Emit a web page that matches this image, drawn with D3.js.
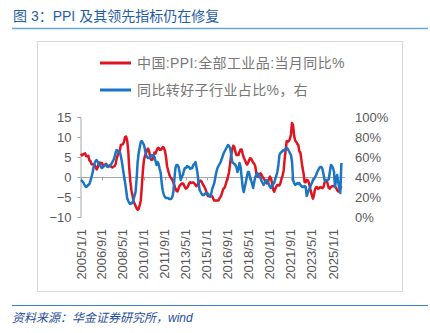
<!DOCTYPE html>
<html lang="zh">
<head>
<meta charset="UTF-8">
<title>PPI 及其领先指标仍在修复</title>
<script src="https://cdn.jsdelivr.net/npm/d3@7/dist/d3.min.js"></script>
<style>
  body { margin: 0; background: #fff; }
  svg { font-family: "Liberation Sans", Arial, "Noto Sans CJK SC", sans-serif; }
</style>
</head>
<body>
<div id="chart"></div>
<script>
// monthly series, 2005/1 .. 2025/9
var startMonth = "2005-01-01";

// 中国:PPI:全部工业品:当月同比%
var ppi = [
  5.8, 5.4, 5.6, 5.8, 5.9, 5.2, 5.2, 5.3, 4.1, 4.0, 3.2, 3.2,
  3.1, 3.0, 2.5, 1.9, 2.4, 3.5, 3.6, 3.4, 3.5, 2.9, 2.8, 3.1,
  3.3, 2.6, 2.7, 2.9, 2.8, 2.5, 2.4, 2.6, 2.7, 3.2, 4.6, 5.4,
  6.1, 6.6, 8.0, 8.1, 8.2, 8.8, 10.0, 10.1, 9.1, 6.6, 2.0, -1.1,
  -3.3, -4.5, -6.0, -6.6, -7.2, -7.8, -8.2, -7.9, -7.0, -5.8, -2.1, 1.7,
  4.3, 5.4, 5.9, 6.8, 7.1, 6.4, 4.8, 4.3, 4.3, 5.0, 6.1, 5.9,
  6.6, 7.2, 7.3, 6.8, 6.8, 7.1, 7.5, 7.3, 6.5, 5.0, 2.7, 1.7,
  0.7, 0.0, -0.3, -0.7, -1.4, -2.1, -2.9, -3.5, -3.6, -2.8, -2.2, -1.9,
  -1.6, -1.6, -1.9, -2.6, -2.9, -2.7, -2.3, -1.6, -1.3, -1.5, -1.4, -1.4,
  -1.6, -2.0, -2.3, -2.0, -1.4, -1.1, -0.9, -1.2, -1.8, -2.2, -2.7, -3.3,
  -4.3, -4.8, -4.6, -4.6, -4.6, -4.8, -5.4, -5.9, -5.9, -5.9, -5.9, -5.9,
  -5.3, -4.9, -4.3, -3.4, -2.8, -2.6, -1.7, -0.8, 0.1, 1.2, 3.3, 5.5,
  6.9, 7.8, 7.6, 6.4, 5.5, 5.5, 5.5, 6.3, 6.9, 6.9, 5.8, 4.9,
  4.3, 3.7, 3.1, 3.4, 4.1, 4.7, 4.6, 4.1, 3.6, 3.3, 2.7, 0.9,
  0.1, 0.1, 0.4, 0.9, 0.6, 0.0, -0.3, -0.8, -1.2, -1.6, -1.4, -0.5,
  0.1, -0.4, -1.5, -3.1, -3.7, -3.0, -2.4, -2.0, -2.1, -2.1, -1.5, -0.4,
  0.3, 1.7, 4.4, 6.8, 9.0, 8.8, 9.0, 9.5, 10.7, 13.5, 12.9, 10.3,
  9.1, 8.8, 8.3, 8.0, 6.4, 6.1, 4.2, 2.3, 0.9, -1.3, -1.3, -0.7,
  -0.8, -1.4, -2.5, -3.6, -4.6, -5.4, -4.4, -3.0, -2.5, -2.6, -3.0, -2.7,
  -2.5, -2.7, -2.8, -2.5, -1.4, -0.8, -0.8, -1.8, -2.8, -2.9, -2.5, -2.3,
  -2.3, -2.2, -2.5, -2.7, -3.3, -3.6, -3.6, -2.9, -2.3
];

// 同比转好子行业占比%（右轴）
var share = [
  37, 36, 35, 33, 31, 30, 31, 32, 33, 36, 40, 44,
  50, 54, 56, 57, 55, 53, 52, 50, 49, 50, 51, 52,
  52, 51, 50, 51, 52, 53, 55, 57, 60, 64, 67, 66,
  65, 65, 61, 55, 48, 41, 35, 27, 19, 16, 14, 13,
  14, 14, 17, 21, 25, 38, 55, 64, 70, 75, 76, 74,
  72, 67, 62, 60, 59, 59, 60, 62, 61, 62, 60, 56,
  52, 55, 53, 48, 44, 33, 26, 22, 20, 19, 19, 19,
  18, 18, 18, 20, 25, 38, 49, 52, 52, 50, 44, 37,
  40, 42, 46, 49, 49, 51, 50, 50, 48, 49, 49, 52,
  53, 55, 50, 44, 35, 27, 25, 23, 22, 22, 23, 24,
  24, 23, 22, 20, 23, 28, 31, 34, 40, 45, 49, 51,
  53, 55, 58, 61, 64, 66, 68, 70, 72, 71, 69, 63,
  55, 54, 53, 52, 50, 45, 48, 54, 50, 40, 30, 25,
  30, 35, 40, 45, 45, 40, 37, 33, 29, 35, 40, 42,
  44, 42, 40, 39, 36, 34, 32, 34, 36, 37, 35, 33,
  30, 29, 31, 33, 34, 38, 41, 45, 52, 62, 64, 65,
  66, 67, 67, 68, 69, 68, 66, 64, 62, 55, 37, 34,
  32, 33, 34, 33, 34, 32, 31, 30, 30, 31, 30, 21,
  24, 27, 29, 32, 34, 37, 38, 40, 42, 45, 47, 49,
  50, 50, 48, 43, 37, 36, 37, 37, 38, 45, 52, 51,
  49, 45, 30, 38, 42, 35, 29, 24, 54
];

var xTickLabels = ["2005/1/1", "2006/9/1", "2008/5/1", "2010/1/1", "2011/9/1", "2013/5/1",
  "2015/1/1", "2016/9/1", "2018/5/1", "2020/1/1", "2021/9/1", "2023/5/1", "2025/1/1"];
var leftTicks = [-10, -5, 0, 5, 10, 15];
var rightTicks = [0, 20, 40, 60, 80, 100];

var seriesNames = ["中国:PPI:全部工业品:当月同比%", "同比转好子行业占比%，右"];
var colors = ["#e0141e", "#1b75c4"];

var W = 430, H = 333;
var svg = d3.select("#chart").append("svg").attr("width", W).attr("height", H);

// title + rules
svg.append("text").attr("x", 13).attr("y", 21)
   .attr("fill", "#1f5ea8").attr("font-size", 14)
   .text("图 3：PPI 及其领先指标仍在修复");
svg.append("line").attr("x1", 12).attr("x2", 428).attr("y1", 28.5).attr("y2", 28.5)
   .attr("stroke", "#6aa5da").attr("stroke-width", 1.5);
svg.append("line").attr("x1", 12).attr("x2", 428).attr("y1", 305.5).attr("y2", 305.5)
   .attr("stroke", "#3b82c8").attr("stroke-width", 1.2);
svg.append("text").attr("x", 12).attr("y", 322)
   .attr("fill", "#1f4e9c").attr("font-size", 12).attr("font-style", "italic")
   .text("资料来源：华金证券研究所，wind");

// chart frame
svg.append("rect").attr("x", 37.5).attr("y", 41.5).attr("width", 365).attr("height", 250)
   .attr("fill", "none").attr("stroke", "#d9d9d9");

var parse = d3.utcParse("%Y-%m-%d");
var parseTick = d3.utcParse("%Y/%m/%d");
var t0 = parse(startMonth);
var dates = ppi.map(function(d, i) { return d3.utcMonth.offset(t0, i); });

var x = d3.scaleUtc().domain([parseTick("2005/1/1"), parseTick("2025/1/1")]).range([81, 333]);
var yL = d3.scaleLinear().domain([-10, 15]).range([217, 117]);
var yR = d3.scaleLinear().domain([0, 100]).range([217, 117]);

// left axis
var gL = svg.append("g").attr("transform", "translate(80.5,0)")
  .call(d3.axisLeft(yL).tickValues(leftTicks).tickSize(3).tickPadding(6));
// right axis (labels only)
var gR = svg.append("g").attr("transform", "translate(350,0)")
  .call(d3.axisRight(yR).tickValues(rightTicks).tickSize(0).tickPadding(5)
    .tickFormat(function(d) { return d + "%"; }));
gR.select(".domain").remove();
// x axis at zero
var gX = svg.append("g").attr("transform", "translate(0," + (yL(0) + 0.5) + ")")
  .call(d3.axisBottom(x).tickValues(xTickLabels.map(parseTick)).tickSize(3).tickFormat(""));
gX.select(".domain").attr("d", "M80.5,0H345");
// rotated tick labels at the bottom
svg.append("g").selectAll("text").data(xTickLabels).join("text")
   .attr("transform", function(d) { return "translate(" + (x(parseTick(d)) + 4.5) + ",229) rotate(-90)"; })
   .attr("text-anchor", "end").attr("font-size", 13).attr("fill", "#595959")
   .text(function(d) { return d; });

[gL, gR, gX].forEach(function(g) {
  g.selectAll(".domain, .tick line").attr("stroke", "#a6a6a6");
  g.selectAll("text").attr("font-size", 13).attr("fill", "#595959")
   .attr("font-family", "\"Liberation Sans\", Arial, sans-serif");
});

// lines
var lineL = d3.line().x(function(d, i) { return x(dates[i]); }).y(function(d) { return yL(d); });
var lineR = d3.line().x(function(d, i) { return x(dates[i]); }).y(function(d) { return yR(d); });
svg.append("path").datum(ppi).attr("d", lineL).attr("fill", "none")
   .attr("stroke", colors[0]).attr("stroke-width", 2.5).attr("stroke-linejoin", "round");
svg.append("path").datum(share).attr("d", lineR).attr("fill", "none")
   .attr("stroke", colors[1]).attr("stroke-width", 2.5).attr("stroke-linejoin", "round");

// legend
var lg = svg.append("g").selectAll("g").data(seriesNames).join("g")
  .attr("transform", function(d, i) { return "translate(100," + (63 + i * 27) + ")"; });
lg.append("line").attr("x1", 0).attr("x2", 31).attr("stroke", function(d, i) { return colors[i]; })
  .attr("stroke-width", 3);
lg.append("text").attr("x", 37).attr("y", 5).attr("font-size", 14).attr("fill", "#777")
  .attr("letter-spacing", 0.4)
  .text(function(d) { return d; });
</script>
</body>
</html>
